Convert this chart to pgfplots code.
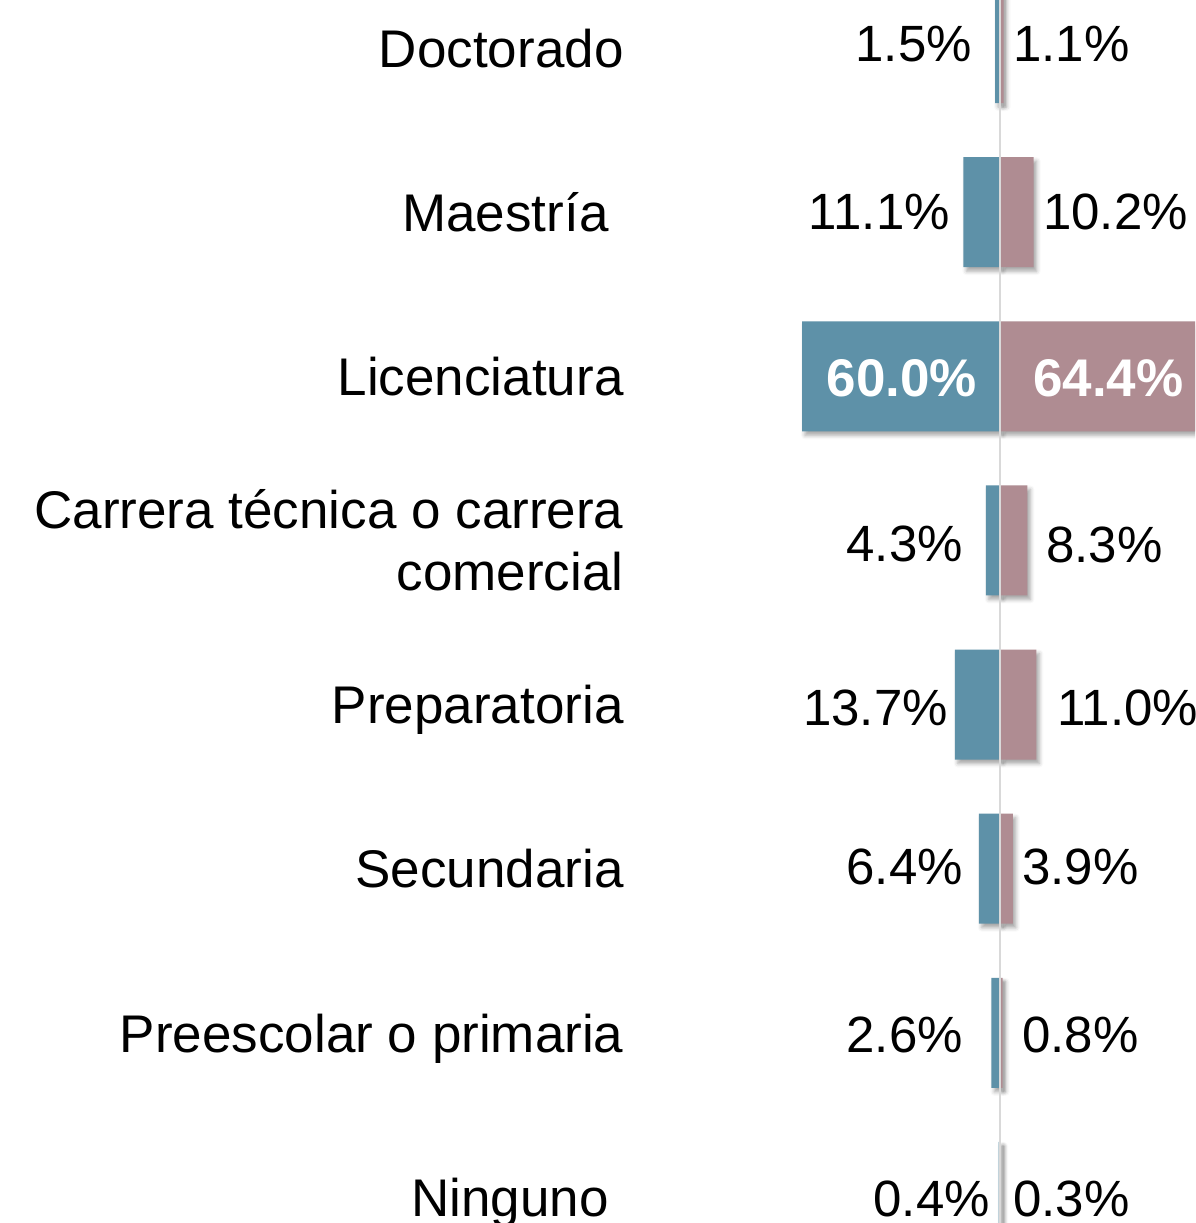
\documentclass[border=0pt]{standalone}
\usepackage{pgfplots}
\pgfplotsset{compat=1.18}
\usepackage{pgfplotstable}
\usepackage{fontspec}
\setmainfont{Liberation Sans}
\usetikzlibrary{shadows.blur}
\definecolor{barblue}{RGB}{94,145,168}
\definecolor{barpink}{RGB}{175,140,146}
\definecolor{midline}{RGB}{217,217,217}

\pgfplotstableread{
y left right
7 -1.5 1.1
6 -11.1 10.2
5 -60.0 64.4
4 -4.3 8.3
3 -13.7 11.0
2 -6.4 3.9
1 -2.6 0.8
0 -0.4 0.3
}\data

\begin{document}
\begin{tikzpicture}[x=1pt,y=1pt]
\useasboundingbox (0,0) rectangle (1195,1223);
\begin{axis}[
  at={(640pt,0pt)}, anchor=south west, scale only axis,
  width=555pt, height=1223pt,
  xmin=-109.09, xmax=59.09, ymin=-0.1584, ymax=7.2924,
  xbar, bar shift=0pt, bar width=110pt,
  axis line style={draw=none}, tick style={draw=none}, xtick=\empty,
  ytick={0,1,2,3,4,5,6,7},
  yticklabels={Ninguno\kern15pt, Preescolar o primaria, Secundaria, Preparatoria, {Carrera técnica o carrera\\comercial}, Licenciatura, Maestría\kern15pt, Doctorado},
  yticklabel style={font=\fontsize{53}{62}\selectfont, align=right, anchor=east, text depth=0pt, inner sep=0pt, xshift=-12pt},
]
\addplot[fill=barblue, draw=none, blur shadow={shadow xshift=3pt, shadow yshift=-4pt, shadow blur radius=4pt, shadow opacity=35}] table[x=left,y=y]{\data};
\addplot[fill=barpink, draw=none, blur shadow={shadow xshift=3pt, shadow yshift=-4pt, shadow blur radius=4pt, shadow opacity=35}] table[x=right,y=y]{\data};
\draw[midline, line width=1.5pt] (axis cs:0,-0.3) -- (axis cs:0,7.4);
\end{axis}
\begin{scope}[every node/.style={inner sep=0pt, font=\fontsize{51}{60}\selectfont}]
\node[anchor=base east] at (972,1161) {1.5\%};
\node[anchor=base east] at (950,993) {11.1\%};
\node[anchor=base east, text=white, font=\fontsize{53}{60}\selectfont\bfseries] at (977,826) {60.0\%};
\node[anchor=base east] at (963,661) {4.3\%};
\node[anchor=base east] at (948,497) {13.7\%};
\node[anchor=base east] at (963,338) {6.4\%};
\node[anchor=base east] at (963,170) {2.6\%};
\node[anchor=base east] at (990,6) {0.4\%};
\node[anchor=base west] at (1013,1161) {1.1\%};
\node[anchor=base west] at (1043,993) {10.2\%};
\node[anchor=base west, text=white, font=\fontsize{53}{60}\selectfont\bfseries] at (1033,826) {64.4\%};
\node[anchor=base west] at (1046,660) {8.3\%};
\node[anchor=base west] at (1057,497) {11.0\%};
\node[anchor=base west] at (1022,338) {3.9\%};
\node[anchor=base west] at (1022,170) {0.8\%};
\node[anchor=base west] at (1013,6) {0.3\%};
\end{scope}
\end{tikzpicture}
\end{document}
